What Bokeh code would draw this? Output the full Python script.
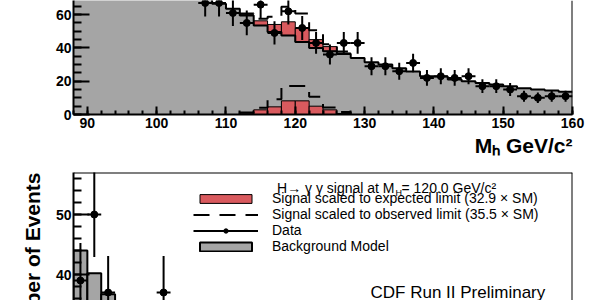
import numpy as np
from bokeh.plotting import figure
from bokeh.models import (Range1d, SingleIntervalTicker, Span, Label, Legend, LegendItem, Title)
from bokeh.layouts import column
from bokeh.embed import file_html
from bokeh.resources import INLINE

# ---------------- data ----------------
bin_edges = list(range(88, 162, 2))          # 2 GeV bins, 88..160
bkg_top = [98, 95, 91, 88, 84, 81, 78, 75, 72, 69.5, 66.5, 63.5, 59.5, 53.5, 49.5,
           47.5, 43.5, 40, 38, 36.4, 34, 31.4, 30, 27.8, 25.8, 23, 22.8, 21, 20, 19,
           18, 17, 15.7, 15, 14.4, 13.7]
sig_edges = list(range(112, 130, 2))         # signal bins 112..128
sig_exp = [0.5, 2.8, 4.6, 8.2, 8.2, 5.0, 2.8, 0.6]
sig_obs = [1.2, 4.0, 9.2, 17.2, 17.2, 10.6, 4.2, 1.5]
data_top_mass = [107, 109, 111, 113, 115, 117, 119, 121, 123, 125, 127, 129, 131, 133,
                 135, 137, 139, 141, 143, 145, 147, 149, 151, 153, 155, 157, 159]
data_top = [67, 67, 61, 55, 66, 49, 62, 52, 43, 36, 43, 43, 29, 29, 26, 31, 22, 23, 22,
            23, 17, 17, 15, 11, 10, 11, 11]

low_edges = [88, 90, 92, 94]
bkg_low = [44, 40.2, 36.7]
data_low_mass = [89, 91, 93, 101]
data_low = [39, 50, 37, 37]

GRAY = "#a5a5a5"
RED = "#d95a5e"
FONT = "Liberation Sans"

# ---------------- helpers ----------------
def step_path(edges, vals, base_l=0.0, base_r=0.0):
    xs, ys = [edges[0]], [base_l]
    for i, v in enumerate(vals):
        xs += [edges[i], edges[i + 1]]
        ys += [v, v]
    xs.append(edges[-1]); ys.append(base_r)
    return xs, ys

def style_axis(ax, major_in, minor_in):
    ax.axis_line_width = 2
    ax.major_tick_line_width = 2
    ax.minor_tick_line_width = 2
    ax.major_tick_in = major_in
    ax.major_tick_out = 0
    ax.minor_tick_in = minor_in
    ax.minor_tick_out = 0
    ax.major_label_text_font = FONT
    ax.major_label_text_font_style = "bold"
    ax.major_label_text_font_size = "14px"
    ax.major_label_text_color = "black"
    ax.axis_line_color = "black"
    ax.major_tick_line_color = "black"
    ax.minor_tick_line_color = "black"

# frame geometry (px)
L, R = 73, 572
X0, X1 = 88, 160
def xd(px):
    return X0 + (px - L) * (X1 - X0) / (R - L)

# ---------------- top panel ----------------
TOP_H = 160
TOP_FRAME = 114
YT1 = 68.5
p1 = figure(width=600, height=TOP_H, output_backend="svg", toolbar_location=None,
            x_range=Range1d(X0, X1), y_range=Range1d(0, YT1),
            min_border_left=L, min_border_right=600 - R, min_border_top=0,
            min_border_bottom=TOP_H - TOP_FRAME)
p1.outline_line_color = None
p1.grid.visible = False
p1.xaxis.ticker = SingleIntervalTicker(interval=10, num_minor_ticks=5)
p1.yaxis.ticker = SingleIntervalTicker(interval=20, num_minor_ticks=4)
style_axis(p1.xaxis[0], 8, 4)
style_axis(p1.yaxis[0], 16, 8)
p1.xaxis.major_label_standoff = 3
p1.yaxis.major_label_standoff = 2
p1.add_layout(Title(text="M\u2095 GeV/c\u00b2", align="right", text_font=FONT,
                    text_font_style="bold", text_font_size="21px", text_color="black",
                    standoff=2, offset=0), "below")

nb = len(bkg_top)
# background
p1.varea_step(x=bin_edges, y1=[0] * (nb + 1), y2=bkg_top + [bkg_top[-1]],
              step_mode="after", fill_color=GRAY)
# stacked expected signal
i0 = bin_edges.index(sig_edges[0])
bkg_sig = bkg_top[i0:i0 + len(sig_exp)]
p1.quad(left=sig_edges[:-1], right=sig_edges[1:], bottom=bkg_sig,
        top=[b + s for b, s in zip(bkg_sig, sig_exp)],
        fill_color=RED, line_color="black", line_width=1)
# signal alone near zero
p1.quad(left=sig_edges[:-1], right=sig_edges[1:], bottom=0, top=sig_exp,
        fill_color=RED, line_color="black", line_width=1)
# background outline
bx, by = step_path(bin_edges, bkg_top, bkg_top[0], 0)
p1.line(bx[1:-1], by[1:-1], line_color="black", line_width=2)
# observed-limit signal (stacked and alone)
ox, oy = step_path(sig_edges, [b + s for b, s in zip(bkg_sig, sig_obs)], bkg_sig[0], bkg_sig[-1])
p1.line(ox, oy, line_color="black", line_width=2, line_dash="16 10")
sx_, sy_ = step_path(sig_edges, sig_obs)
p1.line(sx_, sy_, line_color="black", line_width=2, line_dash="16 10")
# data
dt = np.array(data_top, float); mt = np.array(data_top_mass, float)
et = np.sqrt(dt)
p1.segment(x0=mt, x1=mt, y0=dt - et, y1=dt + et, line_color="black", line_width=2)
p1.segment(x0=mt - 1, x1=mt + 1, y0=dt, y1=dt, line_color="black", line_width=2)
p1.scatter(mt, dt, size=7, color="black")
p1.add_layout(Span(location=X1, dimension="height", line_color="black", line_width=2))

# ---------------- bottom panel ----------------
BOT_H = 140
BOT_TOP = 12
PAGE_TOP2 = TOP_H + BOT_TOP   # 172
YB1 = 57.0
YB0 = YB1 - (BOT_H - BOT_TOP) / 6.0
p2 = figure(width=600, height=BOT_H, output_backend="svg", toolbar_location=None,
            x_range=Range1d(X0, X1), y_range=Range1d(YB0, YB1), x_axis_location=None,
            min_border_left=L, min_border_right=600 - R, min_border_top=BOT_TOP,
            min_border_bottom=0)
p2.outline_line_color = None
p2.grid.visible = False
p2.yaxis.ticker = SingleIntervalTicker(interval=10, num_minor_ticks=5)
style_axis(p2.yaxis[0], 16, 8)
p2.yaxis.major_label_standoff = 2
p2.add_layout(Title(text="Number of Events", align="right", text_font=FONT,
                    text_font_style="bold", text_font_size="21px", text_color="black",
                    standoff=18, offset=0), "left")

def yd2(py_page):
    return YB1 - (py_page - PAGE_TOP2) / 6.0

r_bkg = p2.quad(left=low_edges[:-1], right=low_edges[1:], bottom=0, top=bkg_low,
                fill_color=GRAY, line_color="black", line_width=2)
r_red = p2.quad(left=sig_edges[:-1], right=sig_edges[1:], bottom=0, top=sig_exp,
                fill_color=RED, line_color="black", line_width=1)
r_dash = p2.line(sx_, sy_, line_color="black", line_width=2, line_dash="16 10")
dl = np.array(data_low, float); ml = np.array(data_low_mass, float)
el = np.sqrt(dl)
p2.segment(x0=ml, x1=ml, y0=dl - el, y1=dl + el, line_color="black", line_width=2)
r_dx = p2.segment(x0=ml - 1, x1=ml + 1, y0=dl, y1=dl, line_color="black", line_width=2)
r_dp = p2.scatter(ml, dl, size=7, color="black")
p2.add_layout(Span(location=X1, dimension="height", line_color="black", line_width=2))
p2.add_layout(Span(location=YB1, dimension="width", line_color="black", line_width=2))

legend = Legend(items=[
    LegendItem(label="Signal scaled to expected limit (32.9 \u00d7 SM)", renderers=[r_red]),
    LegendItem(label="Signal scaled to observed limit (35.5 \u00d7 SM)", renderers=[r_dash]),
    LegendItem(label="Data", renderers=[r_dx, r_dp]),
    LegendItem(label="Background Model", renderers=[r_bkg]),
], location=(120, 46), glyph_width=65, glyph_height=11, label_standoff=14, spacing=0,
   padding=0, margin=0, border_line_color=None, background_fill_alpha=0,
   label_text_font=FONT, label_text_font_size="14px", label_height=11,
   label_text_color="black")
p2.add_layout(legend)

for txt, px, py, size, align in [("H\u2192 \u03b3 \u03b3 signal at M", 394, 187, "14px", "right"),
                                  ("H", 395, 192, "9px", "left"),
                                  ("= 120.0 GeV/c\u00b2", 401, 187, "14px", "left"),
                                  ("CDF Run II Preliminary", 370, 292, "17px", "left")]:
    p2.add_layout(Label(x=xd(px), y=yd2(py), text=txt, text_font=FONT,
                        text_font_size=size, text_align=align,
                        text_baseline="alphabetic", text_color="black"))

layout = column(p1, p2, spacing=0)
open("out.html", "w").write(file_html(layout, INLINE))
